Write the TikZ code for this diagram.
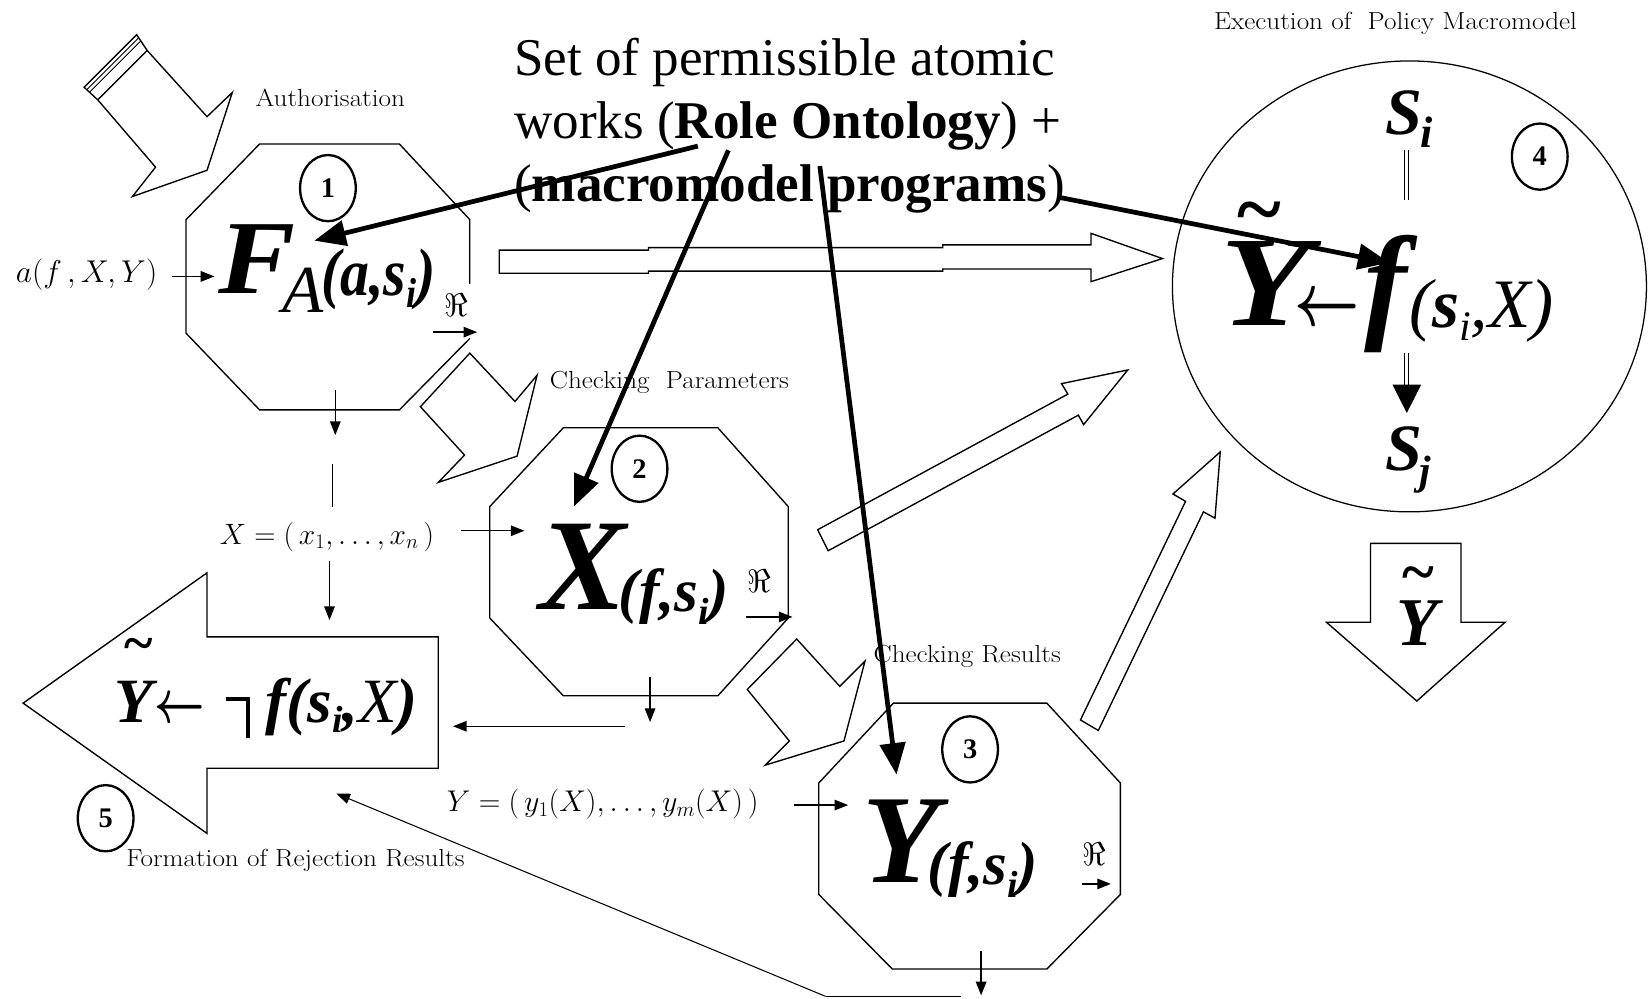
\RequirePackage{fix-cm}
\documentclass[tikz,border=0pt]{standalone}
\usepackage{fontspec}
\usepackage{graphicx}
\usetikzlibrary{arrows.meta,shapes.geometric}
\newfontfamily\tnr{Liberation Serif}
\newfontfamily\lbfont{Latin Modern Roman}[FakeStretch=1.1]
\newcommand\fbi[1]{\tnr\bfseries\itshape\fontsize{#1}{#1}\selectfont}
\newcommand\fri[1]{\tnr\itshape\fontsize{#1}{#1}\selectfont}
\newcommand\pc[3]{\makebox[0pt][l]{\hspace*{#1pt}\raisebox{#2pt}{#3}}}
\newcommand\tld[1]{{\tnr\bfseries\fontsize{#1}{#1}\selectfont\char"7E}}
\newcommand\lowi[2]{\raisebox{#1pt}{\fontsize{#2}{#2}\selectfont i}}
\newcommand\larr[2]{{\fontsize{#1}{#1}\selectfont\boldmath\scalebox{#2}[1]{$\leftarrow$}}}
\begin{document}
\begin{tikzpicture}[x=1pt,y=-1pt,
 shp/.style={draw,line width=1.3pt,line join=miter},
 thinarr/.style={line width=1.3pt,-{Triangle[length=13pt,width=10pt]}},
 bigarr/.style={line width=4.5pt,-{Triangle[length=30pt,width=24pt]}},
 lbl/.style={anchor=base west,inner sep=0pt,font=\lbfont\fontsize{23.5}{23.5}\selectfont},
 mlbl/.style={anchor=base west,inner sep=0pt,font=\fontsize{30}{30}\selectfont},
 frm/.style={anchor=base west,inner sep=0pt},
 num/.style={draw,ellipse,line width=2.2pt,minimum width=53pt,minimum height=63pt,inner sep=0pt,font=\tnr\bfseries\fontsize{27}{27}\selectfont},
 reS/.style={anchor=base west,inner sep=0pt,font=\fontsize{31}{31}\selectfont},
 titl/.style={anchor=base west,inner sep=0pt,font=\tnr\fontsize{50.5}{60}\selectfont}]
\useasboundingbox (0,0) rectangle (1568,950);

% ---------- Authorisation block arrow ----------
\draw[shp] (140,48)--(197,111)--(221,88)--(197,162)--(126,187)--(148,159)--(93,95)--cycle;
\draw[shp] (93,95)--(80,83)--(130,33)--(140,48);
\draw[line width=0.8pt] (82.6,85.4)--(132,36) (85.2,87.8)--(134,39);
\node[lbl] (auth) at (243,101) {Authorisation};

% ---------- Octagon 1 ----------
\draw[shp] (447,322)--(380,390)--(247,390)--(177,317)--(177,209)--(247,137)--(380,137)--(447,209)--(447,270);
\node[num] (n1) at (312,179) {1};
\node[frm] (fa) at (207,279) {\pc{0}{0}{\scalebox{1.1}[1]{\fbi{100}F}}\pc{61}{-18}{\fri{64}A}\pc{98}{-2}{\scalebox{0.86}[1]{\fbi{64}(a,s\lowi{-12}{40})}}};
\node[reS] (re1) at (423,301) {$\Re$};
\coordinate (re1a) at (412,316);
\coordinate (re1b) at (454,316);
\draw[thinarr] (re1a) -- (re1b);
\node[mlbl] (inA) at (15,268.5) {$a(f\,,X,Y)$};
\coordinate (inAt) at (204,263);
\draw[thinarr] (164,263) -- (inAt);

% ---------- horizontal block arrow 1 -> 4 ----------
\draw[shp] (475,238)--(617,238)--(617,235.6)--(897,235.6)--(897,233)--(1038,233)--(1038,222)--(1106,246)--(1038,268)--(1038,256)--(897,256)--(897,258)--(617,258)--(617,260)--(475,260)--cycle;

% ---------- Checking Parameters arrow ----------
\draw[shp] (447,336)--(490,382)--(511,357)--(492,434)--(417,459)--(442,433)--(400,387)--cycle;
\node[lbl] (cp) at (523,369.5) {Checking~ Parameters};

% ---------- X chain ----------
\coordinate (o1b) at (319,371);
\coordinate (o1t) at (319,414);
\draw[thinarr] (o1b) -- (o1t);
\draw[line width=1.3pt] (316.5,441) -- (316.5,482);
\node[mlbl,font=\fontsize{28}{28}\selectfont] (Xl) at (209,518) {$X = (\,x_1,\ldots,x_n\,)$};
\coordinate (Xd1) at (313.5,534);
\coordinate (Xd2) at (313.5,590);
\draw[thinarr] (Xd1) -- (Xd2);
\coordinate (Xr1) at (439,505);
\coordinate (Xr2) at (499,505);
\draw[thinarr] (Xr1) -- (Xr2);

% ---------- Octagon 2 ----------
\draw[shp] (536,407)--(683,407)--(750,482)--(750,588)--(683,662)--(536,662)--(466,588)--(466,482)--cycle;
\node[num] (n2) at (608.5,446) {2};
\node[frm] (fx) at (513,580) {\pc{0}{0}{\fbi{124}X}\pc{75}{-2}{\fbi{58}(f,s\lowi{-12}{36})}};
\node[reS] (re2) at (711,564) {$\Re$};
\draw[thinarr] (710,587) -- (754,587);
\coordinate (o2b) at (618.5,644);
\coordinate (o2t) at (618.5,687);
\draw[thinarr] (o2b) -- (o2t);
\coordinate (L1) at (595,691);
\coordinate (L2) at (431,691);
\draw[thinarr] (L1) -- (L2);

% ---------- diagonal block arrow 2 -> 4 ----------
\draw[shp] (778,504)--(1016,375)--(1010,365)--(1073,352)--(1031,404)--(1026,395)--(788,524)--cycle;

% ---------- Block arrow 5 ----------
\draw[shp] (22,669)--(197,545)--(197,606)--(417,606)--(417,731)--(197,731)--(197,793)--cycle;
\node[frm] (f5) at (108,687) {\pc{0}{0}{\fbi{60}Y}\pc{10}{58}{\tld{52}}\pc{38}{0}{\larr{58}{0.72}}\pc{106}{0}{\rule[20pt]{23pt}{3.5pt}\kern-3.5pt\rule[-15pt]{3.5pt}{38.5pt}}\pc{144}{0}{\fbi{60}f(s\lowi{-10}{36},\textmd{X})}};
\node[num] (n5) at (100.5,778.5) {5};
\node[lbl] (form) at (120,824) {Formation of Rejection Results};

% ---------- Y chain ----------
\node[mlbl,font=\fontsize{28.5}{28.5}\selectfont] (Yl) at (425,772.5) {$Y = (\,y_1(X),\ldots,y_m(X)\,)$};
\coordinate (Yr1) at (755,766);
\coordinate (Yr2) at (807,766);
\draw[thinarr] (Yr1) -- (Yr2);

% ---------- Checking Results arrow ----------
\draw[shp] (758,608)--(799,653)--(823,629)--(803,705)--(728,728)--(751,705)--(711,656)--cycle;
\node[lbl] (cr) at (831,630) {Checking Results};

% ---------- Octagon 3 ----------
\draw[shp] (850,669)--(996,669)--(1066,745)--(1066,851)--(996,922)--(849,922)--(779,851)--(779,745)--cycle;
\node[num] (n3) at (923,713) {3};
\node[frm] (fy) at (820,840) {\pc{0}{0}{\fbi{120}Y}\pc{62}{-2}{\fbi{58}(f,s\lowi{-12}{36})}};
\node[reS] (re3) at (1030,823) {$\Re$};
\draw[thinarr] (1029,841) -- (1057,841);
\coordinate (o3b) at (933.5,905);
\coordinate (o3t) at (933.5,947);
\draw[thinarr] (o3b) -- (o3t);
\coordinate (bl1) at (914,948);
\coordinate (bl2) at (785.5,948);
\coordinate (rej) at (320,755);
\draw[line width=1pt] (bl1) -- (bl2);
\draw[line width=1pt,-{Triangle[length=13pt,width=10pt]}] (bl2) -- (rej);

% ---------- diagonal block arrow 3 -> 4 ----------
\draw[shp] (1028,685)--(1128,477)--(1116,470)--(1161,430)--(1156,493)--(1145,487)--(1045,695)--cycle;

% ---------- Circle 4 ----------
\draw[line width=1.2pt] (1341,272.5) ellipse [x radius=225.5, y radius=214.5];
\node[lbl] (exe) at (1155,28.5) {Execution of~ Policy Macromodel};
\node[num] (n4) at (1465,149) {4};
\node[frm] (si) at (1318,128) {\pc{0}{0}{\fbi{63}S}\pc{33}{-12}{\fbi{42}i}};
\draw[line width=1pt,double,double distance=2.5pt] (1338.5,143) -- (1338.5,190);
\node[frm] (f4) at (1161,310) {\pc{0}{0}{\scalebox{1.15}[1]{\fbi{122}Y}}\pc{16}{84}{\tld{80}}\pc{70}{0}{\larr{72}{0.75}}\pc{137}{0}{\fbi{122}f}\pc{179}{-2}{\fri{66}(\textbf{s}\lowi{-12}{40},X)}};
\draw[line width=1pt,double,double distance=2.5pt] (1338.5,336) -- (1338.5,368);
\draw[line width=1pt,-{Triangle[length=27pt,width=27pt]}] (1338.5,366) -- (1338.5,393);
\node[frm] (sj) at (1318,448) {\pc{0}{0}{\fbi{63}S}\pc{32}{-13}{\fbi{39}j}};

% ---------- Ytilde down block arrow ----------
\draw[shp] (1304,517)--(1390,517)--(1390,592)--(1432,592)--(1348,667)--(1262,592)--(1304,592)--cycle;
\node[frm] (yt) at (1328,614) {\pc{0}{0}{\fbi{65}Y}\pc{6}{50}{\tld{58}}};

% ---------- Title and its arrows ----------
\node[titl] (t1) at (489,71.4) {Set of permissible atomic};
\node[titl] (t2) at (489,132) {works (\textbf{Role Ontology}) +};
\node[titl] (t3) at (489,192) {(\textbf{macromodel programs})};
\coordinate (sF) at (664,139);
\coordinate (sX) at (693,143);
\coordinate (sY) at (780,158);
\coordinate (sf) at (1009,188);
\coordinate (eF) at (299,229);
\coordinate (eX) at (546,482);
\coordinate (eY) at (853,737);
\coordinate (ef) at (1322,250);
\draw[bigarr] (sF) -- (eF);
\draw[bigarr] (sX) -- (eX);
\draw[bigarr] (sY) -- (eY);
\draw[bigarr] (sf) -- (ef);
\end{tikzpicture}
\end{document}
